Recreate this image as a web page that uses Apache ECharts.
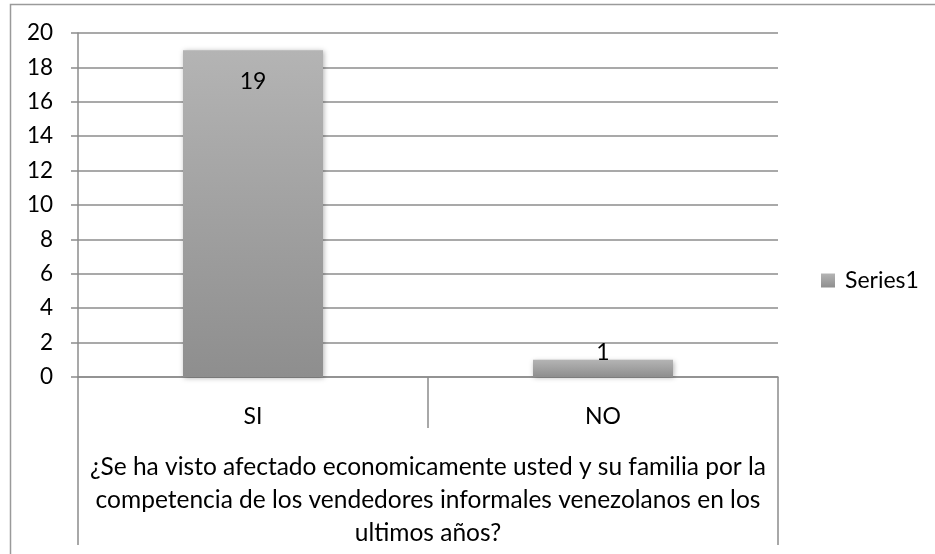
<!DOCTYPE html>
<html>
  <head>
    <meta charset="utf-8">
    <title>Series1</title>
    <style>
      html, body { margin: 0; padding: 0; background: #fff; }
    </style>
  </head>
  <body>
    <div id="main" style="width: 935px;height:554px;"></div>
  </body>
  <script type="text/javascript" src="https://cdn.jsdelivr.net/npm/echarts@6/dist/echarts.min.js"></script>
  <script type="text/javascript">
      // data
      var categories = ['SI', 'NO'];
      var series1 = [19, 1];
      var groupLabel = ['¿Se ha visto afectado economicamente usted y su familia por la\ncompetencia de los vendedores informales venezolanos en los\nultimos años?'];
      var yTicks = [0, 2, 4, 6, 8, 10, 12, 14, 16, 18, 20];

      var font = 'Lato, "Open Sans", sans-serif';
      var lineColor = '#8c8c8c';

      var barColor = new echarts.graphic.LinearGradient(0, 0, 0, 1, [
          { offset: 0, color: '#b4b4b4' },
          { offset: 1, color: '#8e8e8e' }
      ]);

      // big bars get the label inside the top, small ones above
      var barData = series1.map(function (v) {
          var big = v > 3;
          return {
              value: v,
              label: big ? { position: 'insideTop', distance: 18 } : { position: 'top', distance: -6 }
          };
      });

      var myChart = echarts.init(document.getElementById('main'));

      myChart.setOption({
          animation: false,
          textStyle: { fontFamily: font },
          graphic: [{
              type: 'rect',
              shape: { x: 10.5, y: 4.5, width: 1000, height: 1000 },
              style: { fill: 'none', stroke: '#9a9a9a', lineWidth: 1.5 },
              silent: true
          }],
          legend: {
              data: ['Series1'],
              left: 821,
              top: 269,
              padding: 0,
              itemWidth: 14,
              itemHeight: 14,
              icon: 'rect',
              textStyle: { fontSize: 23, color: '#000', fontFamily: font, padding: [0, 0, 0, 5] }
          },
          grid: {
              left: 78,
              right: 157,
              top: 33,
              bottom: 177,
              containLabel: false
          },
          xAxis: [{
              type: 'category',
              data: categories,
              position: 'bottom',
              axisLine: { show: true, lineStyle: { color: lineColor, width: 1.5 } },
              axisTick: { show: true, interval: 0, alignWithLabel: false, length: 51, lineStyle: { color: lineColor, width: 1.5 } },
              axisLabel: { margin: 27, fontSize: 23, lineHeight: 26, color: '#000', fontFamily: font }
          }, {
              type: 'category',
              data: groupLabel,
              position: 'bottom',
              axisLine: { show: false },
              axisTick: { show: true, interval: 0, alignWithLabel: false, length: 168, lineStyle: { color: lineColor, width: 1.5 } },
              axisLabel: { margin: 74, fontSize: 24.5, lineHeight: 33, color: '#000', fontFamily: font, align: 'center' }
          }],
          yAxis: {
              type: 'value',
              min: yTicks[0],
              max: yTicks[yTicks.length - 1],
              interval: yTicks[1] - yTicks[0],
              axisLine: { show: true, lineStyle: { color: lineColor, width: 1.5 } },
              axisTick: { show: true, length: 7, lineStyle: { color: lineColor, width: 1.5 } },
              axisLabel: { margin: 25, fontSize: 22.5, color: '#000', fontFamily: font },
              splitLine: { show: true, lineStyle: { color: lineColor, width: 1.5 } }
          },
          series: [{
              name: 'Series1',
              type: 'bar',
              xAxisIndex: 0,
              data: barData,
              barWidth: '40%',
              itemStyle: {
                  color: barColor,
                  shadowBlur: 5,
                  shadowColor: 'rgba(0,0,0,0.3)',
                  shadowOffsetX: 1,
                  shadowOffsetY: 1
              },
              label: {
                  show: true,
                  fontSize: 23,
                  lineHeight: 26,
                  color: '#000',
                  fontFamily: font
              }
          }],
          color: ['#a3a3a3']
      });
  </script>
</html>
